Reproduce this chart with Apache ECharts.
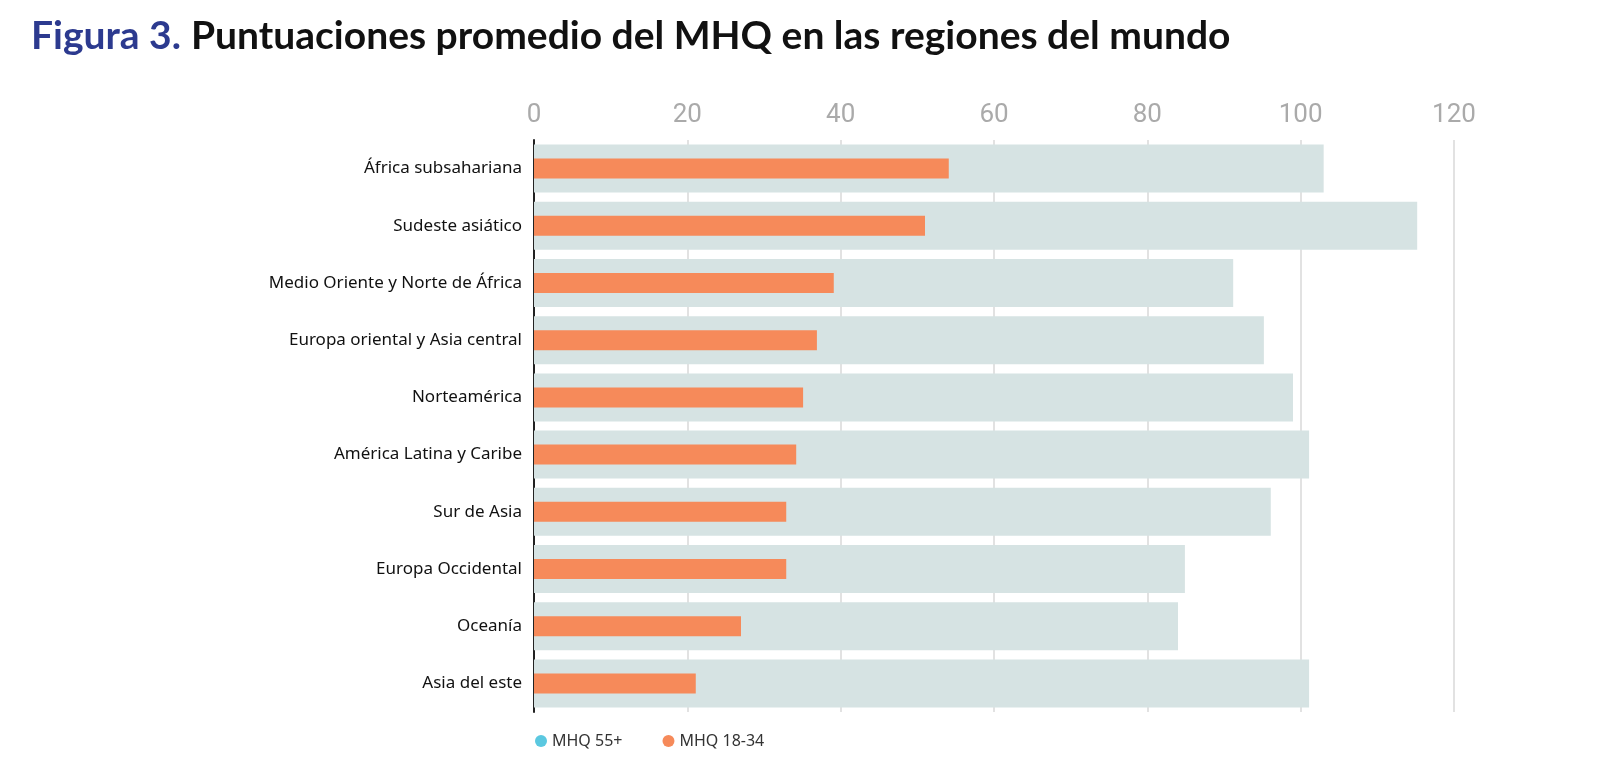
<!DOCTYPE html>
<html>
<head>
<meta charset="utf-8">
<script src="https://cdn.jsdelivr.net/npm/echarts@6/dist/echarts.min.js"></script>
<style>html,body{margin:0;padding:0;background:#fff}#chart{width:1600px;height:780px}</style>
</head>
<body>
<div id="chart"></div>
<script>
var regiones = ['África subsahariana','Sudeste asiático','Medio Oriente y Norte de África','Europa oriental y Asia central','Norteamérica','América Latina y Caribe','Sur de Asia','Europa Occidental','Oceanía','Asia del este'];
var mhq55 = [103, 115.2, 91.2, 95.2, 99, 101.1, 96.1, 84.9, 84, 101.1];
var mhq1834 = [54.1, 51, 39.1, 36.9, 35.1, 34.2, 32.9, 32.9, 27, 21.1];
var ticks = [0, 20, 40, 60, 80, 100, 120];

var chart = echarts.init(document.getElementById('chart'));
chart.setOption({
    title: {
        text: '{a|Figura 3.}  {b|Puntuaciones promedio del MHQ en las regiones del mundo}',
        left: 26, top: 12,
        textStyle: {
            rich: {
                a: {fontFamily: 'Lato', fontSize: 39, fontWeight: 'bold', color: '#2c3a8f'},
                b: {fontFamily: 'Lato', fontSize: 39, fontWeight: 'bold', color: '#111'}
            }
        }
    },
    legend: {
        left: 530, top: 728, itemWidth: 12, itemHeight: 12, itemGap: 40,
        textStyle: {fontFamily: 'Noto Sans', fontSize: 16, color: '#333'},
        data: [
            {name: 'MHQ 55+', icon: 'circle', itemStyle: {color: '#5bc8e0'}},
            {name: 'MHQ 18-34', icon: 'circle', itemStyle: {color: '#f68a5a'}}
        ]
    },
    grid: {left: 534, right: 146, top: 140, bottom: 68},
    xAxis: {
        type: 'value', position: 'top', min: ticks[0], max: ticks[ticks.length - 1], interval: 20,
        axisLine: {show: false}, axisTick: {show: false},
        axisLabel: {fontFamily: 'Roboto', fontSize: 26, color: '#aaa', margin: 12},
        splitLine: {lineStyle: {color: '#e2e2e2', width: 2}}
    },
    yAxis: [{
        type: 'category', data: regiones, inverse: true,
        axisLine: {lineStyle: {color: '#222', width: 2}}, axisTick: {show: false},
        axisLabel: {fontFamily: 'Noto Sans', fontSize: 17, color: '#111', margin: 12}
    }, {
        type: 'category', data: regiones, inverse: true, show: false
    }],
    series: [
        {name: 'MHQ 55+', type: 'bar', data: mhq55, barWidth: 48, yAxisIndex: 0,
         itemStyle: {color: '#d6e3e3'}, z: 1},
        {name: 'MHQ 18-34', type: 'bar', data: mhq1834, barWidth: 20, yAxisIndex: 1,
         itemStyle: {color: '#f68a5a'}, z: 3}
    ]
});
</script>
</body>
</html>
